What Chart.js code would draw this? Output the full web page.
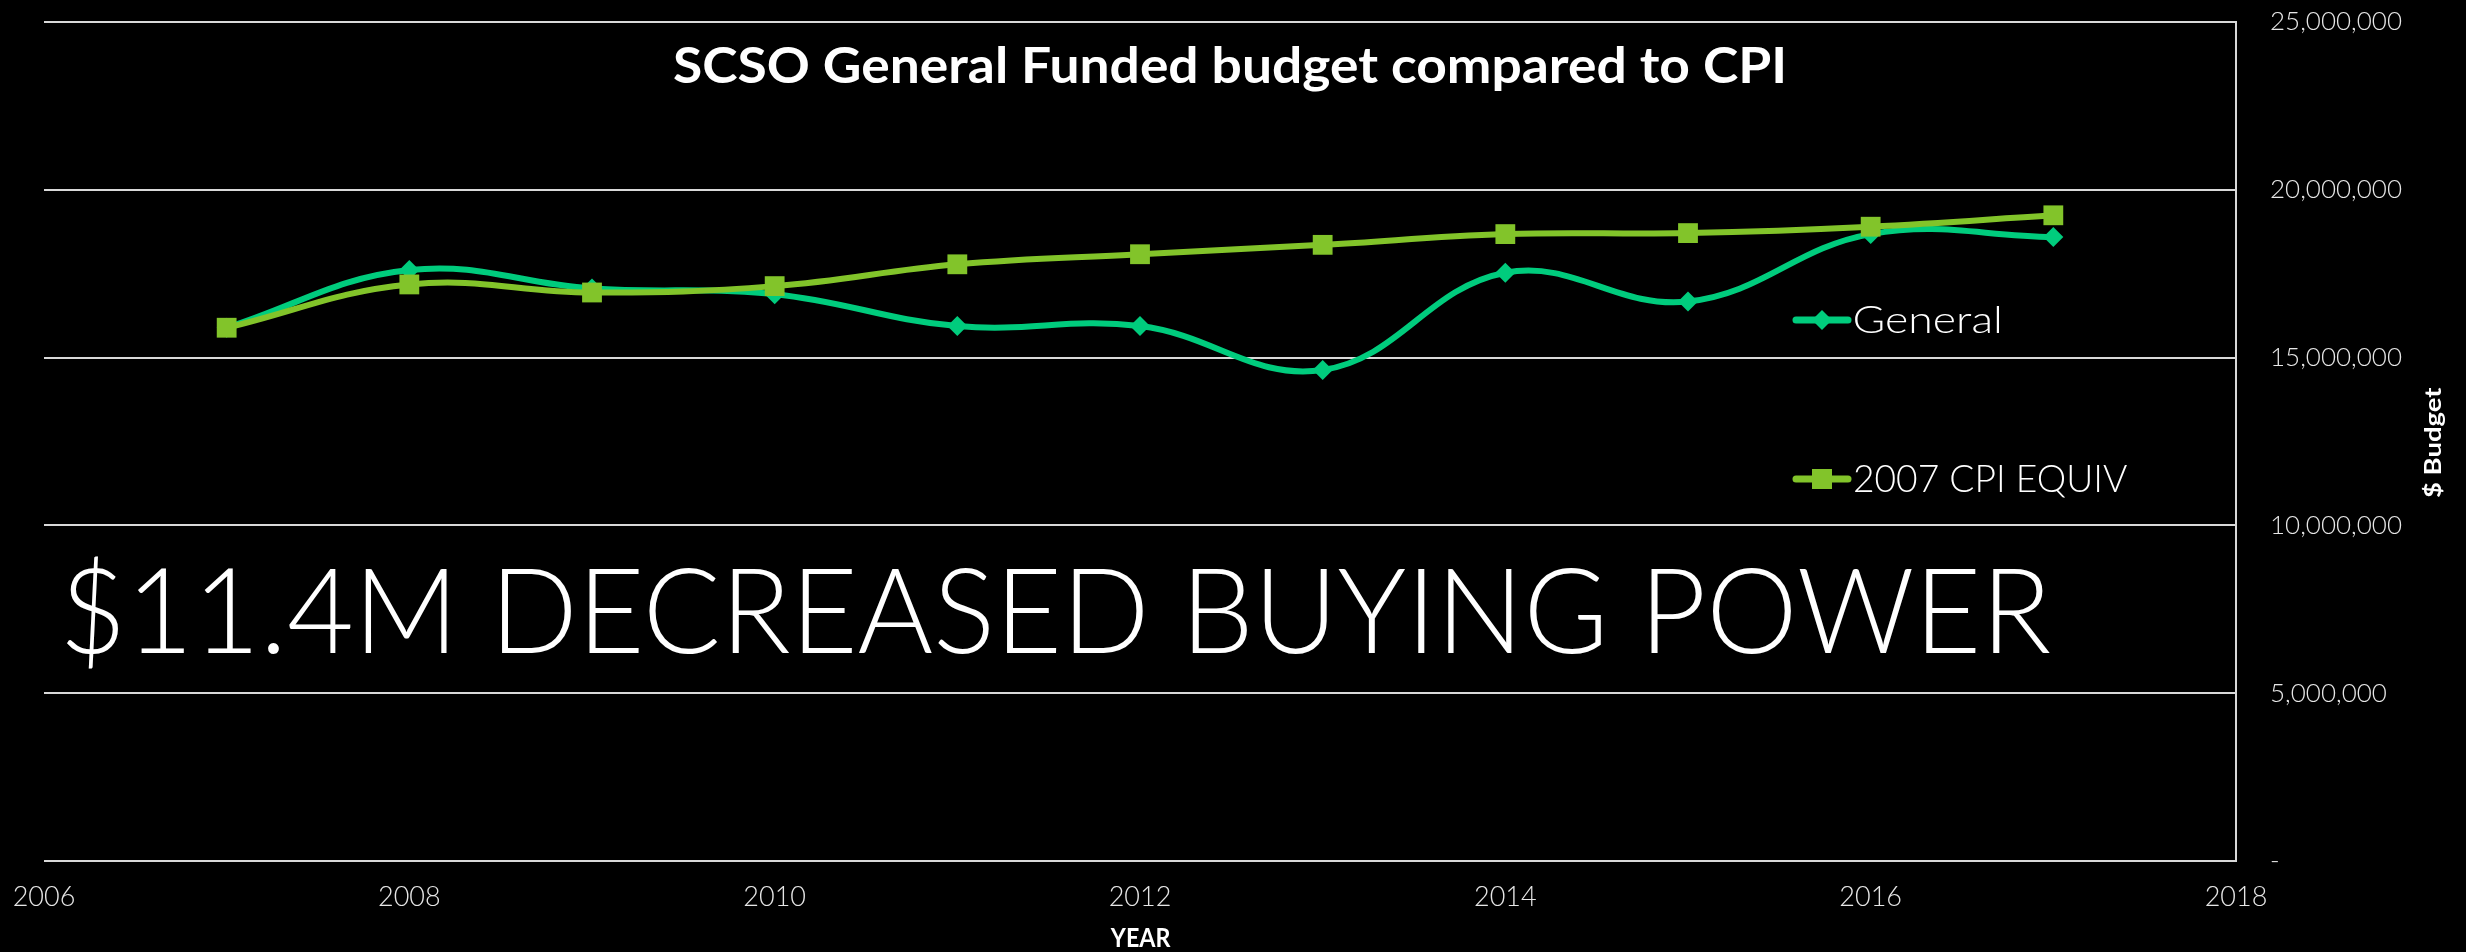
<!DOCTYPE html>
<html lang="en">
<head>
    <meta charset="UTF-8">
    <title>SCSO General Funded budget compared to CPI</title>
    <style>
        html, body {
            margin: 0;
            padding: 0;
            background: #000;
        }
        #budgetChart {
            display: block;
        }
    </style>
</head>
<body>
    <canvas id="budgetChart" width="2466" height="952"></canvas>

    <script src="https://cdn.jsdelivr.net/npm/chart.js@4"></script>
    <script>
        // data
        const years = [2007, 2008, 2009, 2010, 2011, 2012, 2013, 2014, 2015, 2016, 2017];
        const generalFund = [15890000, 17610000, 17060000, 16890000, 15940000, 15940000, 14630000, 17530000, 16670000, 18680000, 18590000];
        const cpiEquiv = [15890000, 17180000, 16940000, 17130000, 17780000, 18080000, 18360000, 18680000, 18710000, 18900000, 19240000];
        const xTickYears = [2006, 2008, 2010, 2012, 2014, 2016, 2018];
        const yTickValues = [0, 5000000, 10000000, 15000000, 20000000, 25000000];

        const TEAL = '#00cc7d';
        const GREEN = '#82c42a';
        const FONT = 'Lato, "Open Sans", sans-serif';

        // draw text so its ink starts at `left` and is exactly `width` wide
        function fitText(ctx, text, left, baseline, width, font) {
            ctx.save();
            ctx.font = font;
            ctx.fillStyle = '#fff';
            ctx.textAlign = 'left';
            ctx.textBaseline = 'alphabetic';
            const m = ctx.measureText(text);
            const ink = m.actualBoundingBoxLeft + m.actualBoundingBoxRight;
            ctx.translate(left, baseline);
            ctx.scale(width / ink, 1);
            ctx.fillText(text, m.actualBoundingBoxLeft, 0);
            ctx.restore();
        }

        function legendItem(ctx, color, shape, y) {
            ctx.save();
            ctx.strokeStyle = color;
            ctx.fillStyle = color;
            ctx.lineWidth = 7;
            ctx.lineCap = 'round';
            ctx.beginPath();
            ctx.moveTo(1796, y);
            ctx.lineTo(1848, y);
            ctx.stroke();
            ctx.beginPath();
            if (shape === 'diamond') {
                ctx.moveTo(1822, y - 10);
                ctx.lineTo(1832, y);
                ctx.lineTo(1822, y + 10);
                ctx.lineTo(1812, y);
                ctx.closePath();
            } else {
                ctx.rect(1812, y - 10, 20, 20);
            }
            ctx.fill();
            ctx.restore();
        }

        const overlay = {
            id: 'overlay',
            afterDraw(chart) {
                const ctx = chart.ctx;
                fitText(ctx, 'SCSO General Funded budget compared to CPI', 674, 83, 1109, 'bold 50px ' + FONT);
                fitText(ctx, '$11.4M DECREASED BUYING POWER', 67, 653, 1983, '300 119px ' + FONT);

                legendItem(ctx, TEAL, 'diamond', 320);
                fitText(ctx, 'General', 1855, 333, 144, '300 37px ' + FONT);
                legendItem(ctx, GREEN, 'square', 479);
                fitText(ctx, '2007 CPI EQUIV', 1855, 492, 272, '300 37px ' + FONT);

                // axis titles
                fitText(ctx, 'YEAR', 1110, 947, 61, 'bold 27px ' + FONT);
                ctx.save();
                ctx.translate(2441, 498);
                ctx.rotate(-Math.PI / 2);
                fitText(ctx, '$ Budget', 0, 0, 111, 'bold 23px ' + FONT);
                ctx.restore();
            }
        };

        const ctx = document.getElementById('budgetChart').getContext('2d');
        new Chart(ctx, {
            type: 'line',
            data: {
                datasets: [{
                    label: 'General',
                    data: years.map((yr, i) => ({ x: yr, y: generalFund[i] })),
                    borderColor: TEAL,
                    backgroundColor: TEAL,
                    borderWidth: 6,
                    tension: 0.4,
                    pointStyle: 'rectRot',
                    pointRadius: 10,
                    pointBorderWidth: 0,
                    order: 2
                }, {
                    label: '2007 CPI EQUIV',
                    data: years.map((yr, i) => ({ x: yr, y: cpiEquiv[i] })),
                    borderColor: GREEN,
                    backgroundColor: GREEN,
                    borderWidth: 6,
                    tension: 0.4,
                    pointStyle: 'rect',
                    pointRadius: 14,
                    pointBorderWidth: 0,
                    order: 1
                }]
            },
            options: {
                responsive: false,
                animation: false,
                layout: {
                    autoPadding: false,
                    padding: { left: 44, top: 22, right: 0, bottom: 0 }
                },
                plugins: {
                    legend: { display: false },
                    tooltip: { enabled: false },
                    title: { display: false }
                },
                scales: {
                    x: {
                        type: 'linear',
                        min: 2006,
                        max: 2018,
                        // tick marks are invisible, they only push the labels down
                        grid: { display: false, drawTicks: true, tickLength: 20 },
                        border: { display: false },
                        afterBuildTicks: s => { s.ticks = xTickYears.map(v => ({ value: v })); },
                        afterFit: s => { s.height = 91; },
                        ticks: {
                            color: '#e6e6e6',
                            font: { family: FONT, size: 27, weight: '300' },
                            padding: 0,
                            maxRotation: 0,
                            autoSkip: false,
                            callback: v => String(v)
                        }
                    },
                    y: {
                        position: 'right',
                        min: 0,
                        max: 25000000,
                        afterBuildTicks: s => { s.ticks = yTickValues.map(v => ({ value: v })); },
                        afterFit: s => { s.width = 230; },
                        grid: { color: '#d9d9d9', lineWidth: 2, drawTicks: true, tickLength: 34, tickColor: 'rgba(0,0,0,0)' },
                        border: { color: '#d9d9d9', width: 2 },
                        ticks: {
                            color: '#e6e6e6',
                            font: { family: FONT, size: 26, weight: '300' },
                            padding: 0,
                            callback: v => v === 0 ? '-' : v.toLocaleString('en-US')
                        }
                    }
                }
            },
            plugins: [overlay]
        });
    </script>
</body>
</html>
